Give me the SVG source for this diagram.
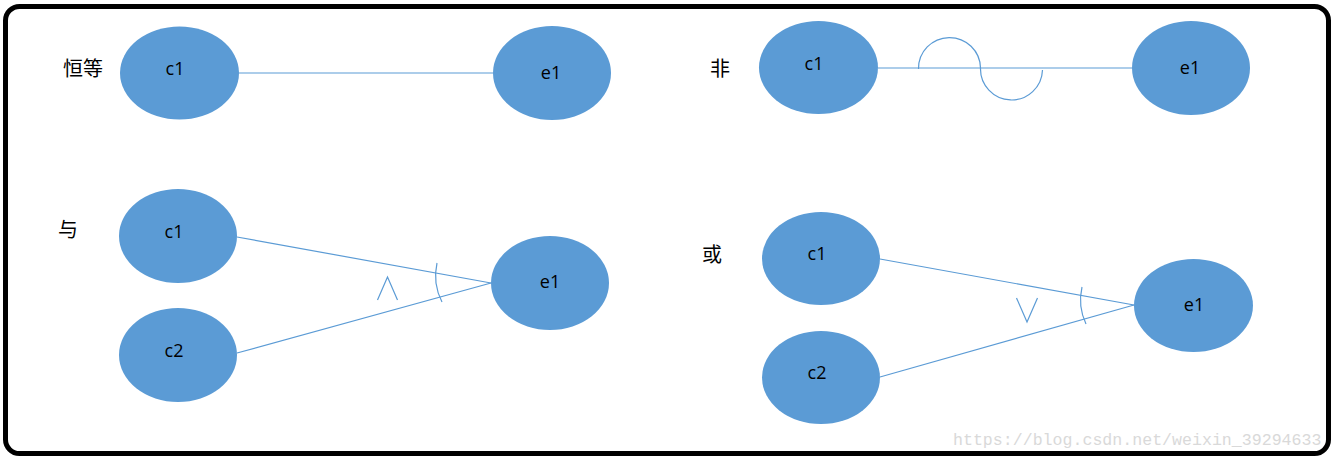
<svg xmlns="http://www.w3.org/2000/svg" width="1334" height="459" viewBox="0 0 1334 459">
<style>
.node ellipse{fill:#5B9BD5;}
.node text{font-family:"Open Sans","Liberation Sans",sans-serif;font-size:18px;fill:#000;text-anchor:middle;dominant-baseline:central;}
.lbl{font-family:"Noto Sans CJK SC","Noto Sans CJK JP",sans-serif;font-size:20px;fill:#000;text-anchor:middle;dominant-baseline:central;}
.conn line,.conn path{stroke:#5B9BD5;stroke-width:1.2;fill:none;}
.sym{font-family:"DejaVu Sans",sans-serif;font-size:24px;fill:#5B9BD5;text-anchor:middle;dominant-baseline:central;}
</style>
<rect x="0" y="0" width="1334" height="459" fill="#fff"/>
<rect x="5.5" y="6.5" width="1323" height="447" rx="14" ry="14" fill="#fff" stroke="#000" stroke-width="5"/>

<text class="lbl" x="83" y="67">恒等</text>
<text class="lbl" x="720" y="67">非</text>
<text class="lbl" x="68" y="228">与</text>
<text class="lbl" x="712" y="253">或</text>

<g id="connectors" class="conn">
  <line x1="239" y1="73" x2="493" y2="73"/>
  <line x1="878" y1="68" x2="1132" y2="68"/>
  <path d="M918.5,69 A31,31 0 0 1 980.5,68"/>
  <path d="M980.5,68 A31,31 0 0 0 1042.5,70"/>
  <line x1="237" y1="237" x2="491" y2="283"/>
  <line x1="237" y1="353" x2="491" y2="283"/>
  <path d="M437,263 A58,58 0 0 0 442,302"/>
  <line x1="880" y1="259" x2="1134" y2="305"/>
  <line x1="880" y1="377" x2="1134" y2="305"/>
  <path d="M1082,287 A57,57 0 0 0 1086,324"/>
  <path d="M377.5,300 L387.5,277 L397.5,300"/>
  <path d="M1016.5,298 L1027,322 L1037.5,298"/>
</g>

<g id="n_c1_id" class="node"><ellipse cx="179.5" cy="73" rx="59.5" ry="46.5"/><text x="175" y="68">c1</text></g>
<g id="n_e1_id" class="node"><ellipse cx="552" cy="73" rx="59" ry="47"/><text x="551" y="72">e1</text></g>

<g id="n_c1_not" class="node"><ellipse cx="818.5" cy="67.5" rx="59.5" ry="46.5"/><text x="814" y="63">c1</text></g>
<g id="n_e1_not" class="node"><ellipse cx="1191" cy="68" rx="59" ry="47"/><text x="1190" y="67">e1</text></g>

<g id="n_c1_and" class="node"><ellipse cx="178" cy="236" rx="59" ry="47"/><text x="174" y="231">c1</text></g>
<g id="n_c2_and" class="node"><ellipse cx="178" cy="355" rx="59" ry="47"/><text x="174" y="350">c2</text></g>
<g id="n_e1_and" class="node"><ellipse cx="550" cy="283" rx="59" ry="47"/><text x="550" y="281">e1</text></g>

<g id="n_c1_or" class="node"><ellipse cx="821" cy="258.5" rx="59" ry="46.5"/><text x="817" y="253">c1</text></g>
<g id="n_c2_or" class="node"><ellipse cx="821" cy="377.5" rx="59" ry="46.5"/><text x="817" y="372">c2</text></g>
<g id="n_e1_or" class="node"><ellipse cx="1193.5" cy="305.5" rx="59.5" ry="46.5"/><text x="1194" y="304">e1</text></g>

<text x="953" y="445" font-family="Liberation Mono, monospace" font-size="16.6" fill="#d9d9d9">https://blog.csdn.net/weixin_39294633</text>
</svg>
